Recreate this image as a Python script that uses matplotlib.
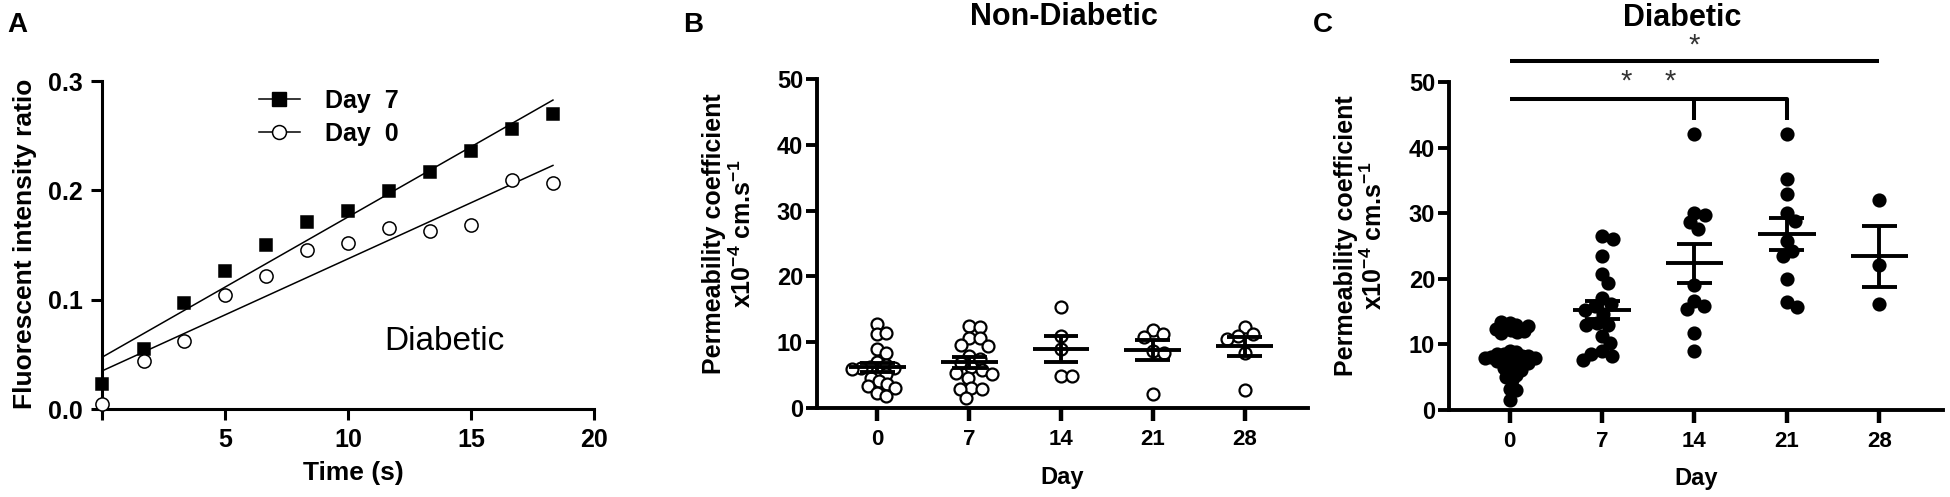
import numpy as np
import matplotlib
matplotlib.use('Agg')
import matplotlib.pyplot as plt
from matplotlib.lines import Line2D

plt.rcParams['font.family'] = ['Liberation Sans', 'DejaVu Sans']
plt.rcParams['font.weight'] = 'bold'
plt.rcParams['mathtext.fontset'] = 'custom'
plt.rcParams['mathtext.rm'] = 'Liberation Sans:bold'
plt.rcParams['mathtext.it'] = 'Liberation Sans:bold'
plt.rcParams['mathtext.bf'] = 'Liberation Sans:bold'

# ---- panel A : fluorescence ratio vs time
time_s = [0, 1.67, 3.33, 5.0, 6.67, 8.33, 10.0, 11.67, 13.33, 15.0, 16.67, 18.33]
day7_ratio = [0.023, 0.055, 0.097, 0.126, 0.150, 0.171, 0.181, 0.199, 0.217, 0.236, 0.256, 0.270]
day0_ratio = [0.005, 0.044, 0.062, 0.104, 0.122, 0.145, 0.152, 0.166, 0.163, 0.168, 0.209, 0.207]

# ---- panels B and C : permeability coefficient per day
days = ['0', '7', '14', '21', '28']
nondiab = [
    [12.7, 11.2, 11.4, 8.9, 8.4, 7.0, 6.6, 6.3, 6.1, 6.1, 5.9, 5.5, 5.2, 4.6, 4.1, 3.6, 3.3, 3.0, 2.3, 1.8],
    [12.4, 12.3, 10.7, 10.6, 9.6, 9.4, 7.9, 7.5, 6.8, 6.2, 5.8, 5.3, 5.1, 4.6, 3.0, 2.9, 2.9, 1.5],
    [15.4, 11.0, 8.9, 4.8, 4.8],
    [11.8, 11.2, 10.8, 8.6, 8.4, 2.1],
    [12.3, 11.3, 11.0, 10.5, 8.4, 2.8],
]
diab = [
    [13.3, 13.0, 12.6, 12.2, 11.9, 11.8, 12.0, 12.4, 12.8, 13.4,
     9.0, 8.8, 8.6, 8.5, 8.3, 8.2, 8.1, 8.0, 8.0, 7.9, 7.8, 7.6, 7.5, 7.3, 7.1,
     6.9, 6.7, 6.4, 6.1, 5.8, 5.4, 5.0, 4.6, 3.2, 3.0, 1.5],
    [26.6, 26.1, 23.4, 20.7, 19.3, 17.1, 16.2, 15.8, 15.2, 14.6, 13.2, 13.0, 12.9,
     11.3, 10.2, 9.0, 8.6, 8.2, 7.6],
    [42.0, 30.1, 29.8, 28.6, 27.6, 19.0, 16.6, 15.9, 15.4, 11.8, 9.0],
    [42.1, 35.2, 33.0, 30.0, 28.8, 25.8, 24.3, 23.4, 20.0, 16.4, 15.7],
    [32.0, 22.1, 16.2],
]


def swarm(ax, vals, d):
    # simple beeswarm: place each point closest to the centre without overlap
    p0 = ax.transData.transform((0, 0))
    p1 = ax.transData.transform((1, 1))
    sx, sy = p1[0] - p0[0], p1[1] - p0[1]
    placed = []
    out = []
    for v in vals:
        y = v * sy
        cands = [0.0]
        for px, py in placed:
            dy = y - py
            if abs(dy) < d:
                dx = np.sqrt(d * d - dy * dy)
                cands += [px + dx, px - dx]
        cands.sort(key=abs)
        for c in cands:
            if all((c - px) ** 2 + (y - py) ** 2 >= d * d - 1e-6 for px, py in placed):
                break
        placed.append((c, y))
        out.append(c)
    return np.array(out), sx


def fitted_swarm(ax, vals, maxw=27.0):
    # shrink the spacing until the group is no wider than GraphPad's columns
    d = 11.0
    while True:
        off, sx = swarm(ax, vals, d)
        if np.abs(off).max() <= maxw or d < 3:
            return off / sx
        d -= 0.5


def dot_panel(ax, groups, filled):
    ax.set_xlim(-0.657, 4.69)
    ax.set_ylim(0, 50)
    for i, vals in enumerate(groups):
        off = fitted_swarm(ax, vals)
        ax.plot(i + off, vals, 'o', ms=8.6, mew=1.6, mec='black',
                mfc='black' if filled else 'white', ls='none', clip_on=False, zorder=3)
        m = np.mean(vals)
        sem = np.std(vals, ddof=1) / np.sqrt(len(vals))
        ax.hlines(m, i - 0.31, i + 0.31, color='black', lw=2.8, zorder=4)
        ax.hlines([m - sem, m + sem], i - 0.19, i + 0.19, color='black', lw=2.8, zorder=4)
        ax.vlines(i, m - sem, m + sem, color='black', lw=2.8, zorder=4)
    for s in ['top', 'right']:
        ax.spines[s].set_visible(False)
    for s in ['left', 'bottom']:
        ax.spines[s].set_linewidth(2.8)
    ax.set_yticks([0, 10, 20, 30, 40, 50])
    ax.set_xticks(range(len(days)))
    ax.set_xticklabels(days, fontsize=16)
    ax.tick_params(axis='y', labelsize=17, length=8, width=2.8, pad=2)
    ax.tick_params(axis='x', length=9, width=3.2, pad=6)
    ax.text(0.5, -0.21, 'Day', transform=ax.transAxes, ha='center', va='center', fontsize=17)
    ax.text(-0.179, 0.53, 'Permeability coefficient\nx10$^{-4}$ cm.s$^{-1}$',
            transform=ax.transAxes, rotation=90, ha='center', va='center',
            fontsize=18, multialignment='center', linespacing=1.15)


fig = plt.figure(figsize=(19.5, 4.97), dpi=100)

# ---------------- A
axA = fig.add_axes([0.05256, 0.17706, 0.25205, 0.65996])
axA.set_xlim(0, 20)
axA.set_ylim(0, 0.3)
t = np.array(time_s)
for vals, mk, fc in [(day7_ratio, 's', 'black'), (day0_ratio, 'o', 'white')]:
    k, b = np.polyfit(t, vals, 1)
    axA.plot([0, t.max()], [b, b + k * t.max()], color='black', lw=1.1, zorder=2)
    axA.plot(t, vals, mk, ms=9 if mk == 's' else 9.5, mfc=fc, mec='black', mew=1.1,
             clip_on=False, zorder=3)
hd = [Line2D([], [], color='black', lw=1.1, marker='s', ms=9.5, mfc='black', mec='black'),
      Line2D([], [], color='black', lw=1.1, marker='o', ms=10, mfc='white', mec='black', mew=1.1)]
axA.legend(hd, ['Day  7', 'Day  0'], loc='upper left', bbox_to_anchor=(0.318, 0.975),
           frameon=False, fontsize=18, handlelength=1.65, handletextpad=1.0,
           labelspacing=0.35, borderpad=0, borderaxespad=0)
axA.text(13.9, 0.054, 'Diabetic', ha='center', va='baseline', fontsize=24, fontweight='normal')
for s in ['top', 'right']:
    axA.spines[s].set_visible(False)
for s in ['left', 'bottom']:
    axA.spines[s].set_linewidth(2.2)
axA.set_xticks([0, 5, 10, 15, 20])
axA.set_xticklabels(['', '5', '10', '15', '20'])
axA.set_yticks([0, 0.1, 0.2, 0.3])
axA.set_yticklabels(['0.0', '0.1', '0.2', '0.3'])
axA.tick_params(labelsize=18, length=8, width=2.2, pad=6)
axA.text(0.511, -0.195, 'Time (s)', transform=axA.transAxes, ha='center', va='center', fontsize=19)
axA.text(-0.158, 0.505, 'Fluorescent intensity ratio', transform=axA.transAxes,
         rotation=90, ha='center', va='center', fontsize=19)

# ---------------- B
axB = fig.add_axes([0.41897, 0.17907, 0.25179, 0.662])
dot_panel(axB, nondiab, filled=False)
axB.text(0.503, 1.164, 'Non-Diabetic', transform=axB.transAxes, ha='center', va='baseline', fontsize=22)

# ---------------- C
axC = fig.add_axes([0.74308, 0.17505, 0.25333, 0.65996])
dot_panel(axC, diab, filled=True)
axC.text(0.472, 1.171, 'Diabetic', transform=axC.transAxes, ha='center', va='baseline', fontsize=22)
# significance brackets
axC.plot([0, 4], [53.2, 53.2], color='black', lw=2.9, clip_on=False, solid_capstyle='butt')
axC.plot([0, 3, 3], [47.4, 47.4, 44.2], color='black', lw=2.9, clip_on=False, solid_capstyle='butt')
axC.plot([2, 2], [47.4, 44.2], color='black', lw=2.9, clip_on=False, solid_capstyle='butt')
axC.text(2.0, 55.6, '*', ha='center', va='center', fontsize=21, fontweight='normal', color='#333333')
axC.text(1.5, 50.0, '*    *', ha='center', va='center', fontsize=21, fontweight='normal', color='#333333')

# panel letters
fig.text(7 / 1950, 1 - 32 / 497, 'A', fontsize=20, va='baseline')
fig.text(683 / 1950, 1 - 32 / 497, 'B', fontsize=20, va='baseline')
fig.text(1313 / 1950, 1 - 32 / 497, 'C', fontsize=20, va='baseline')

fig.savefig('out.png', dpi=100)
